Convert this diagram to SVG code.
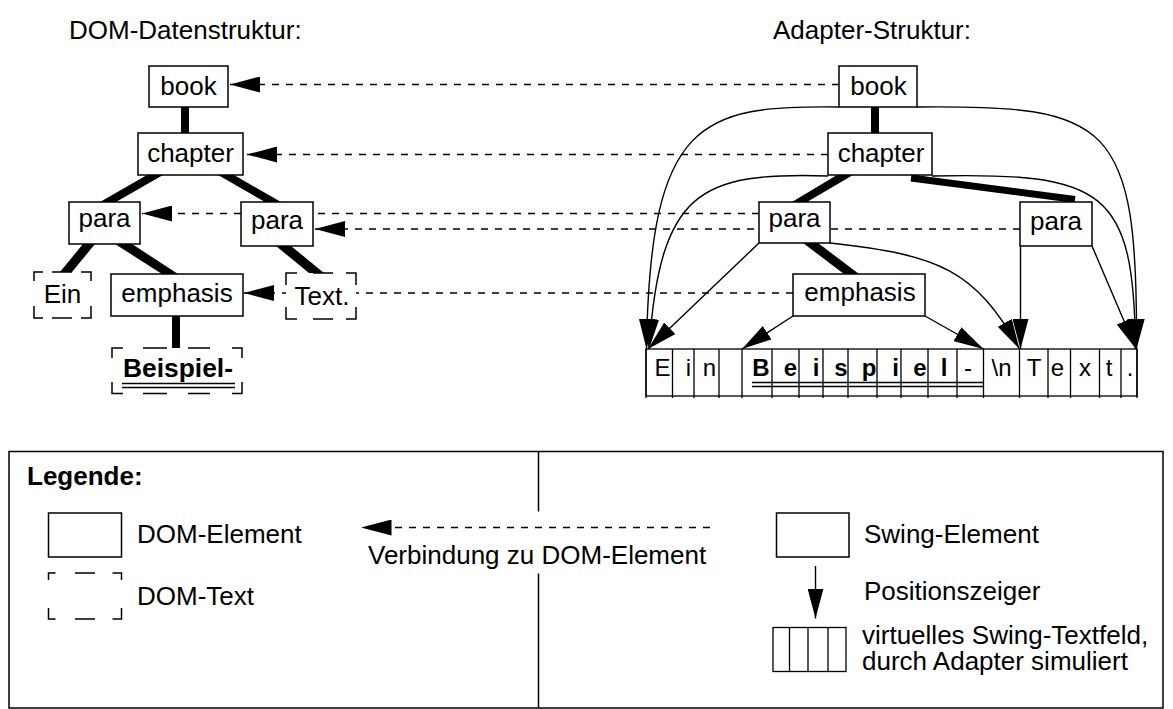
<svg xmlns="http://www.w3.org/2000/svg" width="1173" height="709" viewBox="0 0 1173 709">
  <defs>
    <style>
      text { font-family: "Liberation Sans", Arial, Helvetica, sans-serif; font-size: 26px; fill: #000; }
      .c { text-anchor: middle; }
      .b { font-weight: bold; }
      .cell { font-size: 24px; text-anchor: middle; }
      .box { fill: #fff; stroke: #000; stroke-width: 1.5; }
      .pad { fill: #fff; }
      .dash { fill: none; stroke: #000; stroke-width: 1.5; }
      .edge { fill: #000; stroke: none; }
      .link { fill: none; stroke: #000; stroke-width: 1.3; stroke-dasharray: 7 7; marker-end: url(#head); }
      .ptr { fill: none; stroke: #000; stroke-width: 1.4; marker-end: url(#head); }
      .grid { fill: none; stroke: #000; stroke-width: 1.3; }
      .frame { fill: none; stroke: #000; stroke-width: 1.5; }
    </style>
    <marker id="head" viewBox="0 0 30 16" refX="30" refY="8" markerWidth="30" markerHeight="16" markerUnits="userSpaceOnUse" orient="auto">
      <path d="M0,0 L30,8 L0,16 Z" style="fill:#000;stroke:none"/>
    </marker>
  </defs>

  <rect width="1173" height="709" fill="#fff"/>

  <!-- headings -->
  <text x="69" y="39">DOM-Datenstruktur:</text>
  <text x="773" y="39">Adapter-Struktur:</text>

  <!-- all edges: tree edges, position pointers and DOM links -->
  <g id="connectors">
    <!-- DOM tree edges -->
    <rect class="edge" x="181" y="106" width="8" height="28"/>
    <polygon class="edge" points="147,175 163,175 116,202 100,202"/>
    <polygon class="edge" points="218,175 234,175 281,202 265,202"/>
    <polygon class="edge" points="83,244 95,244 72,272 60,272"/>
    <polygon class="edge" points="115,244 132,244 178,274 162,274"/>
    <polygon class="edge" points="276,246 291,246 324,273 309,273"/>
    <rect class="edge" x="172" y="315" width="8" height="33"/>

    <!-- adapter tree edges -->
    <rect class="edge" x="871" y="106" width="8" height="28"/>
    <polygon class="edge" points="837,175 853,175 807,202 792,202"/>
    <line x1="911" y1="178" x2="1075" y2="199.5" stroke="#000" stroke-width="7"/>
    <polygon class="edge" points="803,243 818,243 859,274 844,274"/>

    <!-- position pointers into the virtual text field -->
    <path class="ptr" d="M839,107 C700,105 650,120 646.5,349"/>
    <path class="ptr" d="M828,176 C700,172 660,190 649,349"/>
    <path class="ptr" d="M759,243 L648,349"/>
    <path class="ptr" d="M793,316 L742,349"/>
    <path class="ptr" d="M925,316 L983.5,349"/>
    <path class="ptr" d="M830,243 C940,255 975,270 1019.5,349"/>
    <path class="ptr" d="M1020.5,246 L1020.5,349"/>
    <path class="ptr" d="M1092,246 L1136,349"/>
    <path class="ptr" d="M917,107 C1110,105 1138,120 1136.5,349"/>
    <path class="ptr" d="M932,176 C1105,172 1134,190 1135.5,349"/>

    <!-- links from adapter elements to DOM elements -->
    <path class="link" d="M839,84.5 L230,84.5"/>
    <path class="link" d="M828,154.5 L247,154.5"/>
    <path class="link" d="M759,213.5 L142,213.5"/>
    <path class="link" d="M1020,229 L315,229"/>
    <path class="link" d="M793,293 L244,293"/>
  </g>

  <!-- DOM tree -->
  <g id="dom-book">
    <rect class="box" x="149" y="66" width="79" height="41"/>
    <text class="c" x="188.5" y="95">book</text>
  </g>
  <g id="dom-chapter">
    <rect class="box" x="138" y="133" width="105" height="42"/>
    <text class="c" x="190.5" y="162">chapter</text>
  </g>
  <g id="dom-para1">
    <rect class="box" x="69" y="202" width="71" height="42"/>
    <text class="c" x="104.5" y="227">para</text>
  </g>
  <g id="dom-para2">
    <rect class="box" x="241" y="202" width="72" height="44"/>
    <text class="c" x="277" y="228.5">para</text>
  </g>
  <g id="dom-text-ein">
    <rect class="pad" x="34" y="272" width="57" height="46"/>
    <path class="dash" d="M34,281 V272 H43 M52,272 H72 M81,272 H91 V281 M91,306 V318 H81 M72,318 H52 M43,318 H34 V306"/>
    <text class="c" x="62.5" y="303">Ein</text>
  </g>
  <g id="dom-emphasis">
    <rect class="box" x="111" y="274" width="132" height="42"/>
    <text class="c" x="177" y="301.5">emphasis</text>
  </g>
  <g id="dom-text-text">
    <rect class="pad" x="286" y="273" width="70" height="46"/>
    <path class="dash" d="M286,285 V273 H297 M313,273 H333 M346,273 H356 V285 M356,307 V319 H346 M333,319 H313 M297,319 H286 V307"/>
    <text class="c" x="322" y="305">Text.</text>
  </g>
  <g id="dom-text-beispiel">
    <rect class="pad" x="112" y="348" width="130" height="45.5"/>
    <path class="dash" d="M112,358 V348 H123 M143,348 H167 M188,348 H210 M232,348 H242 V358 M242,382 V393.5 H232 M210,393.5 H188 M167,393.5 H143 M123,393.5 H112 V382"/>
    <text class="c b" x="178" y="376.5" font-size="23" textLength="110" lengthAdjust="spacingAndGlyphs">Beispiel-</text>
    <path class="grid" d="M122,383.5 H235 M122,387.5 H235"/>
  </g>

  <!-- adapter tree -->
  <g id="swing-book">
    <rect class="box" x="839" y="66" width="78" height="41"/>
    <text class="c" x="878.5" y="95">book</text>
  </g>
  <g id="swing-chapter">
    <rect class="box" x="828" y="133" width="104" height="42"/>
    <text class="c" x="881" y="162">chapter</text>
  </g>
  <g id="swing-para1">
    <rect class="box" x="759" y="202" width="71" height="41"/>
    <text class="c" x="794.5" y="227">para</text>
  </g>
  <g id="swing-para2">
    <rect class="box" x="1020" y="202" width="72" height="44"/>
    <text class="c" x="1056" y="229.5">para</text>
  </g>
  <g id="swing-emphasis">
    <rect class="box" x="793" y="274" width="132" height="42"/>
    <text class="c" x="860" y="300.5">emphasis</text>
  </g>

  <!-- virtual Swing text field, one cell per character -->
  <g id="textfield">
    <rect class="box" x="646" y="349" width="491" height="47" style="stroke-width:1.3"/>
    <path class="grid" d="M646,349 V398 M672.5,349 V398 M694,349 V398 M719,349 V398 M742,349 V398 M772,349 V398 M799,349 V398 M823,349 V398 M848,349 V398 M877,349 V398 M901,349 V398 M928,349 V398 M957,349 V398 M983.5,349 V398 M1019.5,349 V398 M1048,349 V398 M1070.5,349 V398 M1099.5,349 V398 M1121,349 V398 M1137,349 V398"/>
    <path class="grid" d="M752,382.5 H983.5 M752,386.5 H983.5"/>
    <text class="cell" x="662.5" y="376">E</text>
    <text class="cell" x="688.5" y="376">i</text>
    <text class="cell" x="709.5" y="376">n</text>
    <text class="cell b" x="761" y="376">B</text>
    <text class="cell b" x="790.5" y="376">e</text>
    <text class="cell b" x="816" y="376">i</text>
    <text class="cell b" x="841" y="376">s</text>
    <text class="cell b" x="869" y="376">p</text>
    <text class="cell b" x="895.5" y="376">i</text>
    <text class="cell b" x="920" y="376">e</text>
    <text class="cell b" x="944" y="376">l</text>
    <text class="cell" x="968" y="376">-</text>
    <text class="cell" x="1001.5" y="376">\n</text>
    <text class="cell" x="1034" y="376">T</text>
    <text class="cell" x="1057.5" y="376">e</text>
    <text class="cell" x="1085" y="376">x</text>
    <text class="cell" x="1109" y="376">t</text>
    <text class="cell" x="1130" y="376">.</text>
  </g>

  <!-- legend -->
  <g id="legend">
    <rect class="frame" x="9" y="451.5" width="1154" height="256.5"/>
    <path class="frame" d="M538.5,451.5 V511.5 M538.5,573.5 V708"/>
    <text class="b" x="27" y="485">Legende:</text>

    <g id="legend-dom-element">
      <rect class="box" x="48.5" y="513" width="73" height="44"/>
      <text x="137" y="543">DOM-Element</text>
    </g>
    <g id="legend-dom-text">
      <path class="dash" d="M48.5,580 V573 H55.5 M75,573 H95 M112.5,573 H121.5 V580 M121.5,608 V619 H112.5 M95,619 H75 M55.5,619 H48.5 V608"/>
      <text x="137" y="605">DOM-Text</text>
    </g>
    <g id="legend-link">
      <path class="link" d="M710,527.5 L361.5,527.5"/>
      <text x="368" y="564">Verbindung zu DOM-Element</text>
    </g>
    <g id="legend-swing-element">
      <rect class="box" x="776.5" y="513" width="72.5" height="44"/>
      <text x="864" y="543">Swing-Element</text>
    </g>
    <g id="legend-pointer">
      <path class="ptr" d="M815.5,566 L815.5,618.5"/>
      <text x="864" y="600">Positionszeiger</text>
    </g>
    <g id="legend-textfield">
      <rect class="box" x="773" y="627.5" width="73" height="44" style="stroke-width:1.3"/>
      <path class="grid" d="M789.5,627.5 V671.5 M808,627.5 V671.5 M828,627.5 V671.5"/>
      <text x="862" y="643.5">virtuelles Swing-Textfeld,</text>
      <text x="862" y="670">durch Adapter simuliert</text>
    </g>
  </g>
</svg>
